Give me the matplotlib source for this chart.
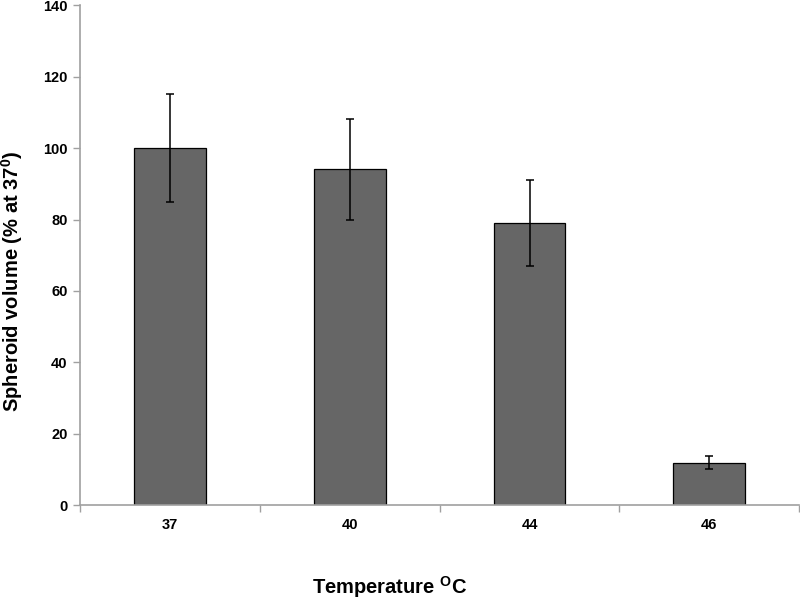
import matplotlib
matplotlib.use("Agg")
import matplotlib.pyplot as plt
import numpy as np

temps = ["37", "40", "44", "46"]
volume = [100, 94, 79, 12]
volume_err = [15, 14, 12, 1.8]

BAR, AXIS = "#666666", "#a0a0a0"

plt.rcParams["font.family"] = ["Liberation Sans", "DejaVu Sans"]
plt.rcParams["mathtext.fontset"] = "custom"
plt.rcParams["mathtext.rm"] = "Liberation Sans:bold"
plt.rcParams["mathtext.bf"] = "Liberation Sans:bold"

fig = plt.figure(figsize=(8, 6.03), dpi=100)
ax = fig.add_axes([0.1, 0.1617, 0.899, 0.83])

x = np.arange(len(temps))
ax.bar(x, volume, width=0.4, color=BAR, edgecolor="black", linewidth=0.9, zorder=2)
ax.errorbar(x, volume, yerr=volume_err, fmt="none", ecolor="black",
            elinewidth=1.1, capsize=3, capthick=1.1, zorder=3)

ax.set_xlim(-0.5, len(temps) - 0.5)
ax.set_ylim(0, 140)
ax.set_yticks(range(0, 141, 20))

# labels under bar centres, tick marks on the category boundaries
ax.set_xticks(x)
ax.set_xticklabels(temps, fontsize=10.5, fontweight="bold")
ax.set_xticks(np.arange(-0.5, len(temps)), minor=True)
ax.tick_params(axis="x", which="major", length=0, pad=9)
ax.tick_params(axis="x", which="minor", length=5, width=1, color=AXIS, direction="out")
ax.tick_params(axis="y", length=5, width=1, color=AXIS, direction="out",
               labelsize=10.5, pad=4)
for lab in ax.get_yticklabels():
    lab.set_fontweight("bold")

for side in ("top", "right"):
    ax.spines[side].set_visible(False)
for side in ("left", "bottom"):
    ax.spines[side].set_color(AXIS)
    ax.spines[side].set_linewidth(1.2)

ax.set_ylabel(r"Spheroid volume (% at 37$^{\mathbf{0}}$)", fontsize=14.5,
              fontweight="bold")
ax.yaxis.set_label_coords(-0.076, 0.447)
ax.set_xlabel(r"Temperature $^{\mathbf{O}}$C", fontsize=14.5, fontweight="bold")
ax.xaxis.set_label_coords(0.43, -0.138)

fig.savefig("out.png", dpi=100, facecolor="white")
